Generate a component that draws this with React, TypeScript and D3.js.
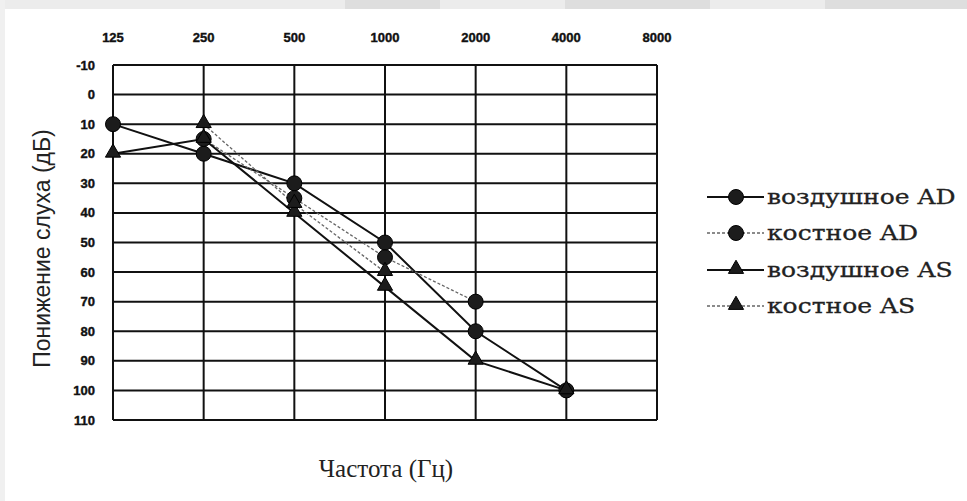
import React from "react";
import * as d3 from "d3";

const frequencies = [125, 250, 500, 1000, 2000, 4000, 8000];
const frequencyLabels = ["125", "250", "500", "1000", "2000", "4000", "8000"];
const levelTicks = [-10, 0, 10, 20, 30, 40, 50, 60, 70, 80, 90, 100, 110];

const airADFreq = [125, 250, 500, 1000, 2000, 4000];
const airADValues = [10, 20, 30, 50, 80, 100];
const boneADFreq = [250, 500, 1000, 2000];
const boneADValues = [15, 35, 55, 70];
const airASFreq = [125, 250, 500, 1000, 2000, 4000];
const airASValues = [20, 15, 40, 65, 90, 100];
const boneASFreq = [250, 500, 1000];
const boneASValues = [10, 37, 60];

const seriesNames = ["воздушное AD", "костное AD", "воздушное AS", "костное AS"];

type Series = { name: string; freq: number[]; values: number[]; marker: "circle" | "triangle"; dashed: boolean };

const series: Series[] = [
  { name: seriesNames[0], freq: airADFreq, values: airADValues, marker: "circle", dashed: false },
  { name: seriesNames[1], freq: boneADFreq, values: boneADValues, marker: "circle", dashed: true },
  { name: seriesNames[2], freq: airASFreq, values: airASValues, marker: "triangle", dashed: false },
  { name: seriesNames[3], freq: boneASFreq, values: boneASValues, marker: "triangle", dashed: true },
];

const W = 967;
const H = 501;
const left = 113;
const right = 657;
const top = 65;
const bottom = 420;

export default function App() {
  const x = d3.scaleLog().base(2).domain([125, 8000]).range([left, right]);
  const y = d3.scaleLinear().domain([-10, 110]).range([top, bottom]);
  const line = d3
    .line<[number, number]>()
    .x((d) => x(d[0]))
    .y((d) => y(d[1]));
  const tri = d3.symbol().type(d3.symbolTriangle).size(100)()!;

  const marker = (kind: string, cx: number, cy: number, key: string) =>
    kind === "circle" ? (
      <circle key={key} cx={cx} cy={cy} r={7.5} fill="#1c1c1c" stroke="#000" strokeWidth={1} />
    ) : (
      <path key={key} d={tri} transform={`translate(${cx},${cy - 1})`} fill="#1c1c1c" stroke="#000" strokeWidth={1} />
    );

  const legendRows = [197, 233, 270, 306];

  return (
    <svg width={W} height={H} style={{ position: "absolute", left: 0, top: 0, background: "#fff" }}>
      <rect x={0} y={0} width={W} height={H} fill="#fff" />
      <rect x={0} y={0} width={W} height={9} fill="#ececec" />
      <rect x={345} y={0} width={95} height={9} fill="#dedede" />
      <rect x={565} y={0} width={145} height={9} fill="#dedede" />
      <rect x={825} y={0} width={142} height={9} fill="#dedede" />
      <rect x={0} y={0} width={5} height={H} fill="#f0f0f0" />

      {/* grid */}
      {levelTicks.map((t) => (
        <line key={"h" + t} x1={left} x2={right} y1={y(t)} y2={y(t)} stroke="#111" strokeWidth={2} />
      ))}
      {frequencies.map((f) => (
        <line key={"v" + f} x1={x(f)} x2={x(f)} y1={top} y2={bottom} stroke="#111" strokeWidth={2} />
      ))}

      {/* tick labels */}
      {frequencies.map((f, i) => (
        <text
          key={"xt" + f}
          x={x(f)}
          y={42}
          textAnchor="middle"
          fontFamily="Liberation Sans, Arial, sans-serif"
          fontWeight="bold"
          fontSize={13}
          stroke="#111"
          strokeWidth={0.4}
          fill="#111"
        >
          {frequencyLabels[i]}
        </text>
      ))}
      {levelTicks.map((t) => (
        <text
          key={"yt" + t}
          x={95}
          y={y(t)}
          dy="0.35em"
          textAnchor="end"
          fontFamily="Liberation Sans, Arial, sans-serif"
          fontWeight="bold"
          fontSize={13}
          stroke="#111"
          strokeWidth={0.4}
          fill="#111"
        >
          {t}
        </text>
      ))}

      {/* series lines */}
      {series.map((s) => (
        <path
          key={"l" + s.name}
          d={line(s.freq.map((f, i) => [f, s.values[i]] as [number, number]))!}
          fill="none"
          stroke={s.dashed ? "#666" : "#111"}
          strokeWidth={s.dashed ? 1.3 : 2}
          strokeDasharray={s.dashed ? "3,2" : undefined}
        />
      ))}
      {series.map((s) =>
        s.freq.map((f, i) => marker(s.marker, x(f), y(s.values[i]), s.name + i))
      )}

      {/* axis titles */}
      <text
        transform={`translate(50,${(top + bottom) / 2 + 6}) rotate(-90)`}
        textAnchor="middle"
        fontFamily="Liberation Sans, Arial, sans-serif"
        fontSize={23}
        fill="#222"
      >
        Понижение слуха (дБ)
      </text>
      <text
        x={386}
        y={477}
        textAnchor="middle"
        fontFamily="Liberation Serif, Times New Roman, serif"
        fontSize={25}
        fill="#222"
      >
        Частота (Гц)
      </text>

      {/* legend */}
      {series.map((s, i) => {
        const cy = legendRows[i];
        return (
          <g key={"lg" + s.name}>
            <line
              x1={707}
              x2={764}
              y1={cy}
              y2={cy}
              stroke={s.dashed ? "#666" : "#111"}
              strokeWidth={s.dashed ? 1.3 : 2}
              strokeDasharray={s.dashed ? "3,2" : undefined}
            />
            {s.marker === "circle" ? (
              <circle cx={736} cy={cy} r={7.5} fill="#1c1c1c" stroke="#000" />
            ) : (
              <path d={tri} transform={`translate(736,${cy - 1})`} fill="#1c1c1c" stroke="#000" />
            )}
            <text
              transform={`translate(767,${cy + 7}) scale(1.25,1)`}
              fontFamily="DejaVu Serif, serif"
              fontSize={20}
              stroke="#222"
              strokeWidth={0.3}
              fill="#222"
            >
              {s.name}
            </text>
          </g>
        );
      })}
    </svg>
  );
}
